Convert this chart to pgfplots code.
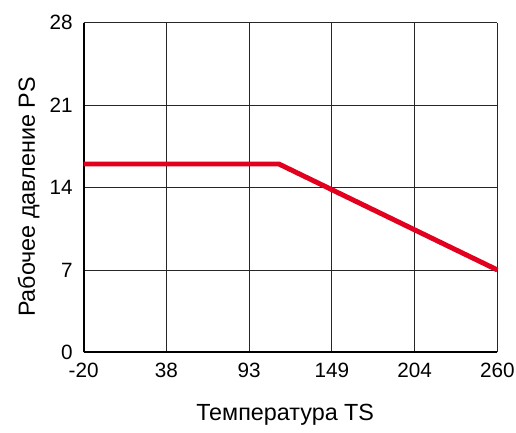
\documentclass[border=0pt]{standalone}
\usepackage{fontspec}
\setmainfont{Liberation Sans}
\usepackage{pgfplots}
\pgfplotsset{compat=1.18}
\definecolor{curvered}{RGB}{226,0,30}
\begin{document}
\begin{tikzpicture}
\begin{axis}[
    scale only axis,
    width=310pt,
    height=247pt,
    xmin=0, xmax=5,
    ymin=0, ymax=28,
    xtick={0,1,2,3,4,5},
    xticklabels={-20,38,93,149,204,260},
    ytick={0,7,14,21,28},
    grid=major,
    grid style={line width=0.7pt, draw=black!85},
    major tick length=0pt,
    axis x line*=bottom,
    axis y line*=left,
    x axis line style={line width=1.6pt, -},
    y axis line style={line width=1.6pt, -},
    tick label style={font=\fontsize{15.5}{17}\selectfont, inner sep=1pt},
    label style={font=\fontsize{17.5}{20}\selectfont},
    /pgf/number format/assume math mode=true,
    xlabel={Температура TS},
    ylabel={Рабочее давление PS},
    xticklabel style={yshift=-7pt},
    yticklabel style={xshift=-7pt},
    xlabel style={yshift=-15pt, xshift=-4pt},
    ylabel style={yshift=3pt, xshift=-7pt},
    clip=false,
]
\draw[line width=0.7pt, draw=black!85] (axis cs:0,28) -- (axis cs:5,28);
\draw[line width=0.7pt, draw=black!85] (axis cs:5,0) -- (axis cs:5,28);
\addplot[curvered, line width=3.7pt, line join=round] coordinates {
    (0, 16)
    (2.36, 16)
    (5, 7)
};
\end{axis}
\path ([xshift=-10pt]current bounding box.west);
\path ([yshift=-2pt]current bounding box.south);
\path ([yshift=17pt]current axis.north);
\end{tikzpicture}
\end{document}
